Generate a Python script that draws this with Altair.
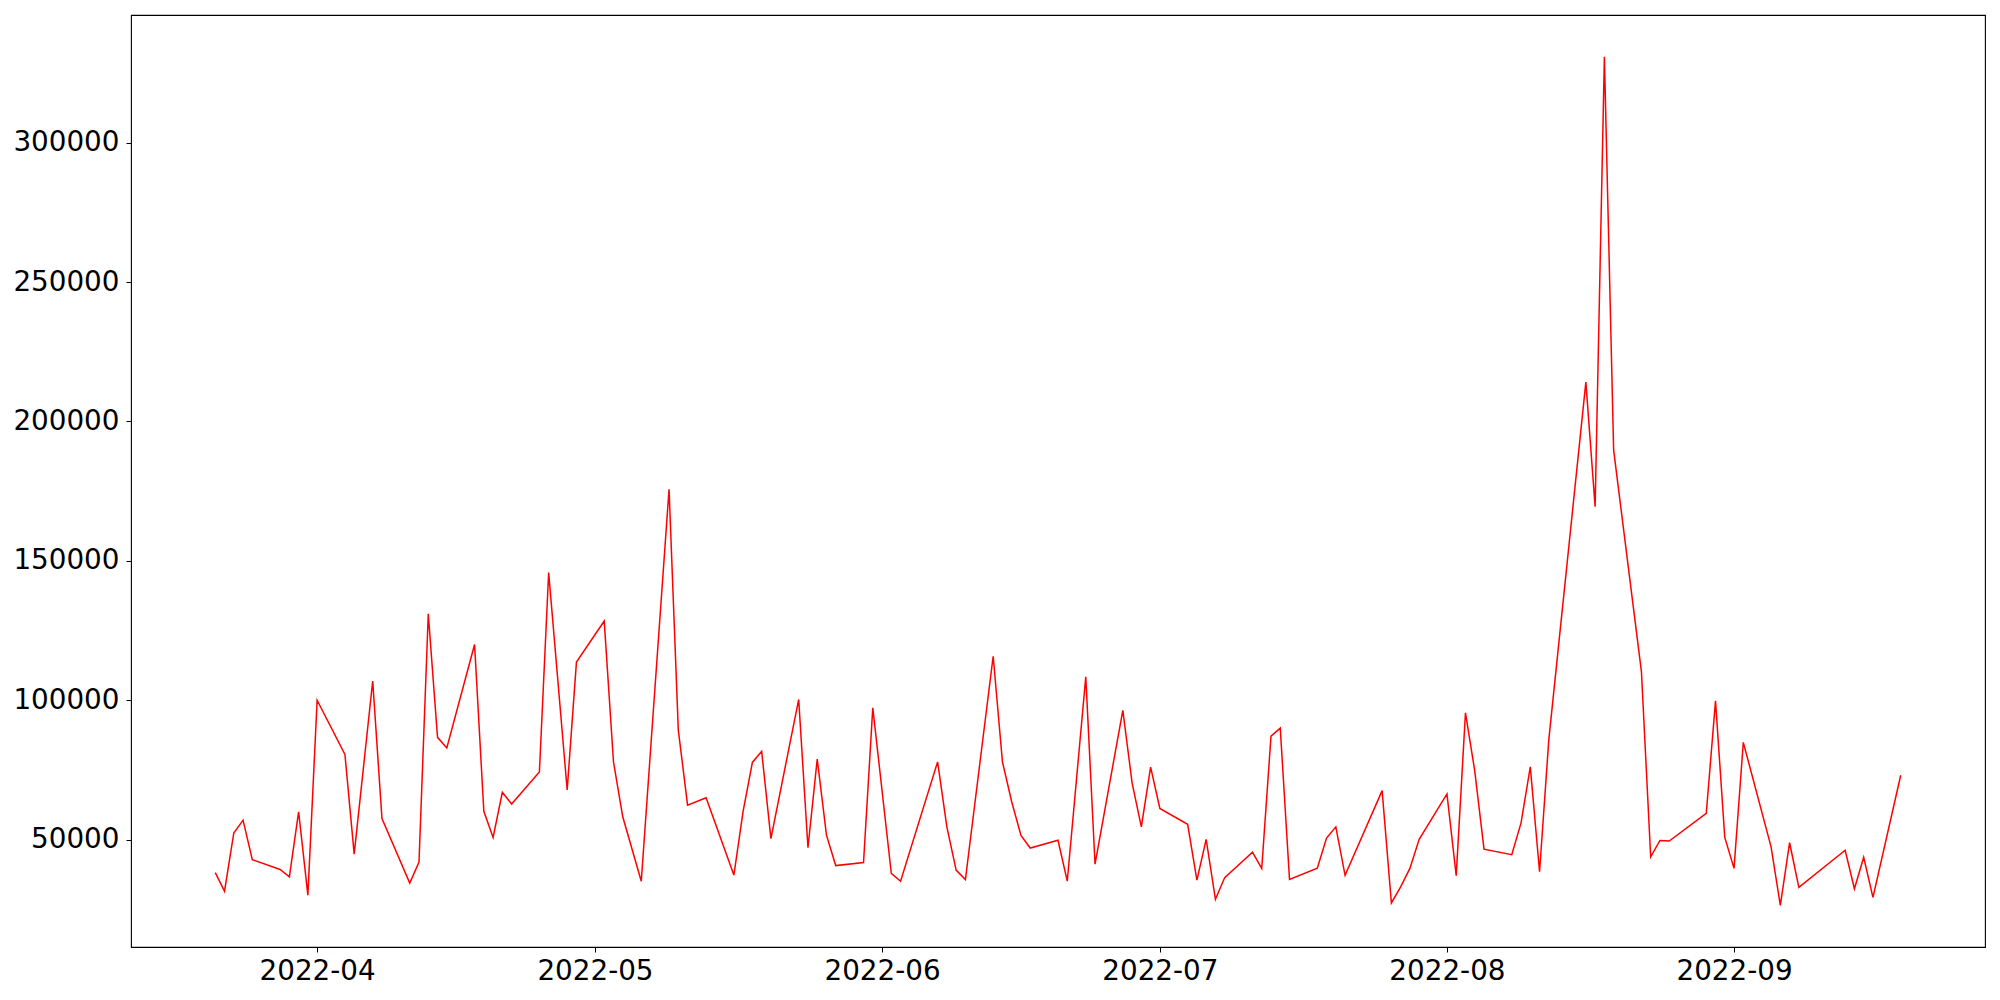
import altair as alt
import pandas as pd

dates = [
    "2022-03-21", "2022-03-22", "2022-03-23", "2022-03-24", "2022-03-25",
    "2022-03-28", "2022-03-29", "2022-03-30", "2022-03-31", "2022-04-01",
    "2022-04-04", "2022-04-05", "2022-04-07", "2022-04-08",
    "2022-04-11", "2022-04-12", "2022-04-13", "2022-04-14", "2022-04-15",
    "2022-04-18", "2022-04-19", "2022-04-20", "2022-04-21", "2022-04-22",
    "2022-04-25", "2022-04-26", "2022-04-28", "2022-04-29",
    "2022-05-02", "2022-05-03", "2022-05-04", "2022-05-06",
    "2022-05-09", "2022-05-10", "2022-05-11", "2022-05-13",
    "2022-05-16", "2022-05-17", "2022-05-18", "2022-05-19", "2022-05-20",
    "2022-05-23", "2022-05-24", "2022-05-25", "2022-05-26", "2022-05-27",
    "2022-05-30", "2022-05-31", "2022-06-02", "2022-06-03",
    "2022-06-07", "2022-06-08", "2022-06-09", "2022-06-10",
    "2022-06-13", "2022-06-14", "2022-06-15", "2022-06-16", "2022-06-17",
    "2022-06-20", "2022-06-21", "2022-06-23", "2022-06-24",
    "2022-06-27", "2022-06-28", "2022-06-29", "2022-06-30", "2022-07-01",
    "2022-07-04", "2022-07-05", "2022-07-06", "2022-07-07", "2022-07-08",
    "2022-07-11", "2022-07-12", "2022-07-13", "2022-07-14", "2022-07-15",
    "2022-07-18", "2022-07-19", "2022-07-20", "2022-07-21",
    "2022-07-25", "2022-07-26", "2022-07-27", "2022-07-28", "2022-07-29",
    "2022-08-01", "2022-08-02", "2022-08-03", "2022-08-04", "2022-08-05",
    "2022-08-08", "2022-08-09", "2022-08-10", "2022-08-11", "2022-08-12",
    "2022-08-16", "2022-08-17", "2022-08-18", "2022-08-19",
    "2022-08-22", "2022-08-23", "2022-08-24", "2022-08-25",
    "2022-08-29", "2022-08-30", "2022-08-31", "2022-09-01", "2022-09-02",
    "2022-09-05", "2022-09-06", "2022-09-07", "2022-09-08",
    "2022-09-13", "2022-09-14", "2022-09-15", "2022-09-16",
    "2022-09-19",
]

values = [
    38200, 31500, 52400, 57000, 42800,
    39300, 36700, 60000, 30100, 100000,
    80600, 44800, 106900, 57600,
    34400, 42000, 131000, 86700, 82900,
    120000, 60200, 50800, 67000, 62800,
    74300, 145800, 67800, 113700,
    128400, 77900, 58200, 35100,
    175700, 89300, 62400, 65000,
    37300, 60200, 77700, 81700, 50400,
    100300, 47100, 78900, 51600, 40700,
    41800, 97300, 37900, 35100,
    77900, 54600, 39100, 35700,
    115800, 77900, 63600, 51500, 47000,
    49800, 35100, 108400, 41200,
    96400, 70400, 54600, 76000, 61200,
    55500, 35500, 50100, 28600, 36400,
    45500, 39700, 87100, 90000, 35700,
    39800, 50600, 54600, 37200,
    67600, 27300, 33100, 39700, 50100,
    66400, 37100, 95500, 74700, 46600,
    44600, 56000, 76100, 38500, 85900,
    214100, 169400, 330800, 189700,
    110300, 43800, 49700, 49500,
    59400, 99800, 50800, 39700, 84900,
    47400, 26400, 48900, 32900,
    46200, 32400, 43700, 29300,
    73100,
]

tick_months = [4, 5, 6, 7, 8, 9]
y_ticks = [50000, 100000, 150000, 200000, 250000, 300000]

df = pd.DataFrame({"date": dates, "value": values})

x_domain = [
    alt.DateTime(year=2022, month=3, date=11, hours=21, minutes=36, utc=True),
    alt.DateTime(year=2022, month=9, date=28, hours=2, minutes=24, utc=True),
]
x_ticks = [alt.DateTime(year=2022, month=m, date=1, utc=True) for m in tick_months]

chart = (
    alt.Chart(df)
    .mark_line(color="#ff0000", strokeWidth=1.5)
    .encode(
        x=alt.X(
            "date:T",
            scale=alt.Scale(type="utc", domain=x_domain, nice=False),
            axis=alt.Axis(
                title=None,
                values=x_ticks,
                labelExpr="utcFormat(datum.value, '%Y-%m')",
                grid=False,
                domain=False,
                tickSize=5,
                tickColor="black",
                labelColor="black",
                labelFont="DejaVu Sans",
                labelFontSize=27.8,
                labelPadding=5,
            ),
        ),
        y=alt.Y(
            "value:Q",
            scale=alt.Scale(domain=[11500, 345800], nice=False, zero=False),
            axis=alt.Axis(
                title=None,
                values=y_ticks,
                format="d",
                grid=False,
                domain=False,
                tickSize=5,
                tickColor="black",
                labelColor="black",
                labelFont="DejaVu Sans",
                labelFontSize=27.8,
                labelPadding=7,
            ),
        ),
    )
    .properties(
        width=1854,
        height=932,
        autosize=alt.AutoSizeParams(type="none"),
        padding={"left": 123, "top": 7, "right": 5, "bottom": 40},
    )
    .configure(background="white")
    .configure_view(stroke="#000000", strokeWidth=1.1, strokeOpacity=1)
)

chart.save("out.html", embed_options={"renderer": "svg", "actions": False})
